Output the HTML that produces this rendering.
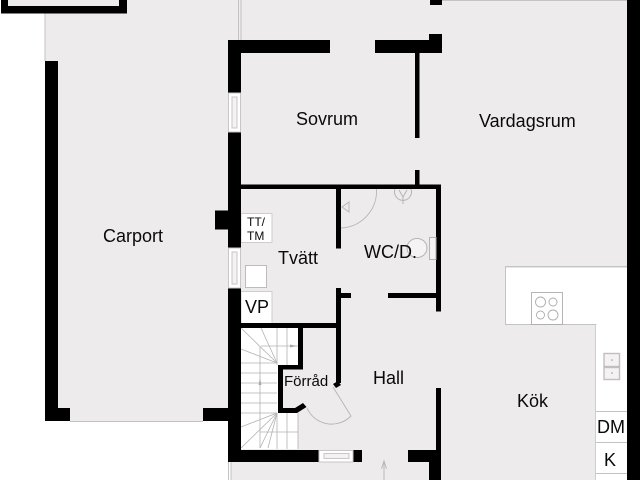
<!DOCTYPE html>
<html><head><meta charset="utf-8"><style>
html,body{margin:0;padding:0;background:#fff}
svg{display:block;width:640px;height:480px}
text{font-family:"Liberation Sans",sans-serif;fill:#0a0a0a;font-size:18px}
</style></head><body>
<svg xmlns="http://www.w3.org/2000/svg" width="640" height="480" viewBox="0 0 640 480">
<rect width="640" height="480" fill="#fff"/>
<!-- floor -->
<rect x="45" y="0" width="183" height="421" fill="#eeebec"/>
<rect x="1" y="0" width="126" height="13" fill="#eeebec"/>
<rect x="228" y="0" width="400" height="462" fill="#eeebec"/>
<rect x="231" y="462" width="200" height="18" fill="#eeebec"/>
<rect x="441" y="400" width="187" height="80" fill="#eeebec"/>
<!-- white fixtures -->
<g fill="#fff" stroke="#cfcdce" stroke-width="1">
<rect x="505.5" y="267" width="122" height="57.5"/>
<rect x="595.5" y="324" width="32" height="157"/>
<rect x="241" y="213.500" width="31" height="29"/>
<rect x="245.500" y="265.500" width="21" height="22" stroke="#bdbbbc"/>
<rect x="241" y="291.500" width="31" height="32"/>
<rect x="241" y="328" width="57" height="121" stroke="none"/>
</g>
<rect x="506" y="268" width="121" height="56" fill="#fff"/>
<rect x="596.500" y="323" width="30.500" height="14" fill="#fff"/>
<g stroke="#c4c2c3" stroke-width="1" fill="none">
<line x1="596" y1="411.500" x2="627" y2="411.500"/>
<line x1="596" y1="442.500" x2="627" y2="442.500"/>
<line x1="596" y1="473.500" x2="627" y2="473.500"/>
<line x1="505" y1="324.500" x2="596" y2="324.500"/>
<line x1="505.500" y1="267" x2="505.500" y2="324"/>
<line x1="505" y1="266.500" x2="627" y2="266.500"/>
<line x1="45" y1="13" x2="45" y2="61"/>
<line x1="70" y1="421.500" x2="203" y2="421.500"/>
<line x1="238.500" y1="0" x2="238.500" y2="40"/>
<line x1="241" y1="0" x2="241" y2="40"/>
<line x1="228.500" y1="462" x2="228.500" y2="480"/>
<line x1="231" y1="462" x2="231" y2="480"/>
<line x1="442" y1="0.500" x2="627" y2="0.500"/>
</g>
<!-- stairs -->
<rect x="278" y="365" width="20" height="48" fill="#eeebec"/>
<rect x="283" y="328" width="15" height="0" fill="#eeebec"/>
<g stroke="#b4b2b3" stroke-width="0.8" fill="none">
<line x1="277" y1="363" x2="241" y2="328"/><line x1="277" y1="363" x2="261" y2="328"/><line x1="277" y1="363" x2="241" y2="349"/>
<line x1="277" y1="413" x2="241" y2="427"/><line x1="277" y1="413" x2="241" y2="448"/><line x1="277" y1="413" x2="260" y2="448"/><line x1="277" y1="413" x2="268" y2="448"/>
<line x1="277" y1="328" x2="277" y2="365"/><line x1="287" y1="328" x2="287" y2="365"/>
<line x1="277" y1="413" x2="277" y2="449"/><line x1="287" y1="413" x2="287" y2="449"/><line x1="298" y1="413" x2="298" y2="449"/>
<line x1="260" y1="347" x2="260" y2="448"/>
<line x1="261" y1="346" x2="298" y2="346"/>
<line x1="260" y1="432" x2="298" y2="432"/>
<line x1="241" y1="363" x2="277" y2="363"/><line x1="241" y1="373" x2="277" y2="373"/><line x1="241" y1="383" x2="277" y2="383"/><line x1="241" y1="393" x2="277" y2="393"/><line x1="241" y1="403" x2="277" y2="403"/><line x1="241" y1="413" x2="277" y2="413"/>
</g>
<path d="M290 344.500L297 346L290 347.500Z" fill="#aaa"/>
<path d="M258.500 385L260 378L261.500 385Z" fill="#aaa"/>
<!-- walls -->
<g fill="#000">
<path d="M1 0H8V6H119V0H127V13.500H1Z"/>
<rect x="45" y="61" width="13" height="360"/>
<rect x="45" y="408" width="25" height="13"/>
<rect x="203" y="408" width="25" height="13"/>
<rect x="228" y="40" width="13" height="422"/>
<rect x="215" y="210.500" width="13" height="19"/>
<rect x="228" y="40" width="102" height="13"/>
<rect x="375" y="40" width="67" height="13"/>
<rect x="429" y="34" width="13" height="8"/>
<rect x="430" y="0" width="12" height="5"/>
<rect x="627" y="0" width="13" height="480"/>
<rect x="415" y="53" width="4.500" height="85"/>
<rect x="415" y="170" width="4.500" height="15"/>
<rect x="241" y="184.500" width="200" height="4.500"/>
<rect x="436" y="184.500" width="5" height="127"/>
<rect x="388" y="293" width="48" height="5"/>
<rect x="336" y="184.500" width="5" height="64"/>
<rect x="336" y="288" width="5" height="95"/>
<rect x="341" y="293" width="10" height="5"/>
<path d="M333 384L338 381L341 385L336 388Z"/>
<rect x="241" y="323" width="95" height="5"/>
<rect x="298" y="328" width="5" height="41"/>
<rect x="278" y="365" width="25" height="4.500"/>
<rect x="278" y="365" width="5" height="48"/>
<path d="M278 408H295L303 403L306.500 407L297 413H278Z"/>
<rect x="228" y="450" width="91" height="12"/>
<rect x="353" y="450" width="9" height="12"/>
<rect x="408" y="450" width="33" height="12"/>
<rect x="429" y="462" width="12" height="18"/>
<rect x="436" y="388" width="5" height="62"/>
</g>
<!-- windows -->
<g fill="#fff" stroke="#c8c6c7" stroke-width="1">
<rect x="228.500" y="93" width="12" height="39"/>
<rect x="232" y="97" width="5" height="31" fill="#f4f2f3"/>
<rect x="228.500" y="248" width="12" height="40"/>
<rect x="232" y="252" width="5" height="32" fill="#f4f2f3"/>
<rect x="319" y="450.500" width="34" height="11.500"/>
<rect x="324" y="453.500" width="25" height="5" fill="#f4f2f3"/>
</g>
<!-- doors and arrow -->
<g fill="none" stroke="#b5b3b4" stroke-width="0.9">
<path d="M376.500 189A37 37 0 0 1 341 228"/>
<path d="M349 202L342 207L349 212Z"/>
<path d="M333 387L351 416A27 27 0 0 1 307 408"/>
<path d="M384 480V462M381.500 469L384 461L386.500 469"/>
</g>
<!-- WC fixtures -->
<g fill="none" stroke="#b5b3b4" stroke-width="1">
<path d="M395 189A8.500 8.500 0 1 0 411 189"/>
<path d="M399 190L403 197L407 190M403 197V204"/>
<ellipse cx="417" cy="248" rx="10" ry="9.500" fill="#f5f3f4"/>
<rect x="429.500" y="237.500" width="6.500" height="22" fill="#f5f3f4"/>
</g>
<!-- hob -->
<g fill="none" stroke="#aeacad" stroke-width="0.9">
<rect x="531.500" y="292.500" width="31" height="32"/>
<circle cx="540.500" cy="302" r="5"/><circle cx="553" cy="302" r="4"/><circle cx="540.500" cy="315" r="4"/><circle cx="553" cy="315" r="5"/>
</g>
<!-- sink -->
<g fill="#f4f2f3" stroke="#c0bebf" stroke-width="1.400">
<rect x="604" y="353.500" width="15.500" height="13"/>
<rect x="604" y="367.500" width="15.500" height="12"/>
</g>
<circle cx="612" cy="360" r="0.800" fill="#999"/><circle cx="612" cy="373" r="0.800" fill="#999"/>
<!-- labels -->
<text x="103" y="242">Carport</text>
<text x="296" y="125">Sovrum</text>
<text x="479" y="127">Vardagsrum</text>
<text x="278" y="264">Tvätt</text>
<text x="364" y="258">WC/D.</text>
<text x="373" y="384">Hall</text>
<text x="517" y="407">Kök</text>
<text x="245" y="313">VP</text>
<text x="597" y="433">DM</text>
<text x="604" y="466">K</text>
<text x="284" y="386" style="font-size:15px">Förråd</text>
<text x="247" y="226" style="font-size:12px">TT/</text>
<text x="247" y="240" style="font-size:12px">TM</text>
</svg>
</body></html>
